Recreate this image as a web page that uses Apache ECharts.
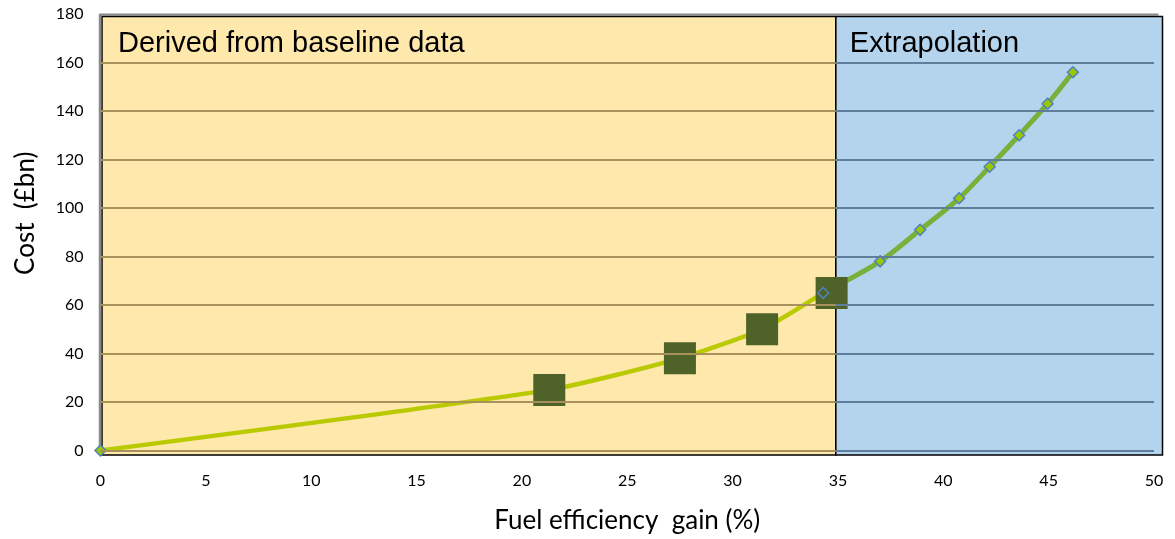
<!DOCTYPE html>
<html><head><meta charset="utf-8">
<script src="https://cdn.jsdelivr.net/npm/echarts@6/dist/echarts.min.js"></script>
<style>html,body{margin:0;padding:0;background:#fff}#c{width:1175px;height:539px}</style>
</head><body><div id="c"></div>
<script>
// ---- data ----
const baselineX = [0, 21.3, 27.5, 31.4, 34.3];
const baselineY = [0, 25, 38, 50, 65];
const squareX = [21.3, 27.5, 31.4, 34.7];
const squareY = [25, 38, 50, 65];
const extraX = [34.3, 37.0, 38.9, 40.75, 42.2, 43.6, 44.95, 46.15];
const extraY = [65, 78, 91, 104, 117, 130, 143, 156];
const gridValues = [0, 20, 40, 60, 80, 100, 120, 140, 160];
const regionSplitX = 34.9;
const regionLabels = ['Derived from baseline data', 'Extrapolation'];
const xTitle = 'Fuel efficiency  gain (%)';
const yTitle = 'Cost  (£bn)';

(function () {
const FONT = 'Lato';
const chart = echarts.init(document.getElementById('c'), null, {renderer: 'canvas'});

const zip = (a, b) => a.map((v, i) => [v, b[i]]);

function gridLines(x0, x1) {
  return gridValues.map(v => [{coord: [x0, v]}, {coord: [x1, v]}]);
}

const option = {
  animation: false,
  backgroundColor: '#ffffff',
  grid: {left: 100.5, right: 21, top: 14, bottom: 88.5, containLabel: false},
  xAxis: {
    type: 'value', min: 0, max: 50, interval: 5,
    axisLine: {show: false}, axisTick: {show: false}, splitLine: {show: false},
    axisLabel: {color: '#000', fontFamily: FONT, fontSize: 16, margin: 22},
    name: xTitle, nameLocation: 'middle', nameGap: 57,
    nameTextStyle: {color: '#000', fontFamily: FONT, fontSize: 26}
  },
  yAxis: {
    type: 'value', min: 0, max: 180, interval: 20,
    axisLine: {show: false}, axisTick: {show: false}, splitLine: {show: false},
    axisLabel: {color: '#000', fontFamily: FONT, fontSize: 16, margin: 17},
    name: yTitle, nameLocation: 'middle', nameGap: 62,
    nameTextStyle: {color: '#000', fontFamily: FONT, fontSize: 26, padding: [0, 0, 0, 38]}
  },
  series: [
    {
      type: 'line', data: [], z: 1, silent: true,
      markLine: {
        silent: true, symbol: 'none', label: {show: false},
        lineStyle: {color: '#A8915B', width: 2, type: 'solid'},
        data: gridLines(0, regionSplitX)
      }
    },
    {
      type: 'line', data: [], z: 1, silent: true,
      markLine: {
        silent: true, symbol: 'none', label: {show: false},
        lineStyle: {color: '#5E7E9C', width: 2, type: 'solid'},
        data: gridLines(regionSplitX, 50)
      }
    },
    {
      type: 'line', z: 2, clip: false, smooth: 0.2,
      data: zip(baselineX, baselineY),
      lineStyle: {color: '#B9CA00', width: 4.5},
      symbol: 'diamond', symbolSize: 11, showSymbol: true,
      itemStyle: {color: '#99C800', borderColor: '#4F81BD', borderWidth: 1.5}
    },
    {
      type: 'line', z: 2, clip: false, smooth: 0.3,
      data: zip(extraX, extraY),
      lineStyle: {color: '#77B13B', width: 5},
      showSymbol: false
    },
    {
      type: 'scatter', z: 3,
      data: zip(squareX, squareY),
      symbol: 'rect', symbolSize: 32,
      itemStyle: {color: '#4F6228', opacity: 1}
    },
    {
      type: 'scatter', z: 4,
      data: zip(extraX, extraY).map((p, i) => i === 0
        ? {value: p, itemStyle: {color: 'rgba(0,0,0,0)'}}
        : {value: p}),
      symbol: 'diamond', symbolSize: 11,
      itemStyle: {color: '#99C800', borderColor: '#4F81BD', borderWidth: 1.5, opacity: 1}
    }
  ]
};
chart.setOption(option);

// ---- decorative plot backgrounds and frame, positioned through the axes ----
const p00 = chart.convertToPixel({gridIndex: 0}, [0, 0]);
const pTop = chart.convertToPixel({gridIndex: 0}, [50, 180]);
const pSplit = chart.convertToPixel({gridIndex: 0}, [regionSplitX, 0]);
const gl = p00[0], gb = p00[1], gr = pTop[0], gt = pTop[1], split = pSplit[0];
const rTop = gt + 2.5, rBottom = gb + 4.5, rLeft = gl + 1.5, rRight = gr + 8.5;

chart.setOption({
  graphic: [
    {type: 'rect', z: -10, silent: true,
      shape: {x: rLeft, y: rTop, width: split - rLeft, height: rBottom - rTop},
      style: {fill: '#FEE8AC', stroke: '#000', lineWidth: 1.5}},
    {type: 'rect', z: -10, silent: true,
      shape: {x: split, y: rTop, width: rRight - split, height: rBottom - rTop},
      style: {fill: '#B4D4EE', stroke: '#000', lineWidth: 1.5}},
    {type: 'line', z: -5, silent: true,
      shape: {x1: gl - 1, y1: gt + 0.7, x2: gr + 4.5, y2: gt + 0.7},
      style: {stroke: '#8A8A8A', lineWidth: 2.5}},
    {type: 'line', z: -5, silent: true,
      shape: {x1: gl - 0.5, y1: gt, x2: gl - 0.5, y2: rBottom},
      style: {stroke: '#8A8A8A', lineWidth: 2.5}},
    {type: 'text', z: 10, silent: true, x: rLeft + 16, y: rTop + 13,
      style: {text: regionLabels[0], fontFamily: 'Liberation Sans', fontSize: 29, fill: '#000'}},
    {type: 'text', z: 10, silent: true, x: split + 14, y: rTop + 13,
      style: {text: regionLabels[1], fontFamily: 'Liberation Sans', fontSize: 29, fill: '#000'}}
  ]
});
})();
</script></body></html>
